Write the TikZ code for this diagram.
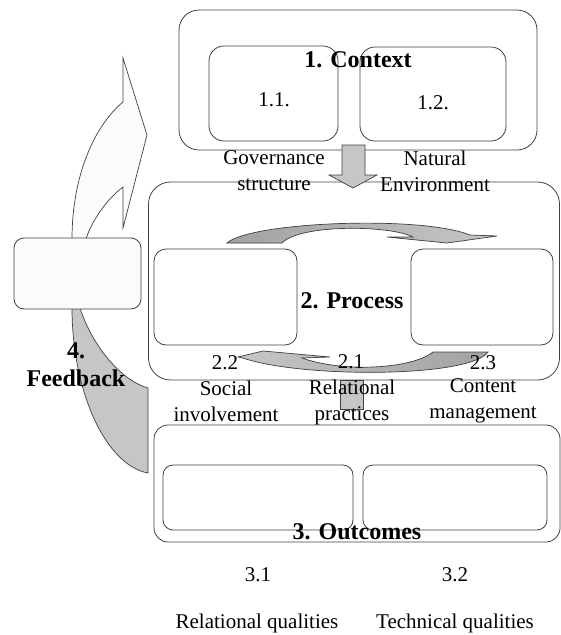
\documentclass[tikz,border=0pt]{standalone}
\usepackage{fontspec}
\setmainfont{Liberation Serif}
\usetikzlibrary{shapes, arrows.meta}
\definecolor{linegray}{HTML}{404040}
\definecolor{fillgray}{HTML}{C6C6C8}
\definecolor{darkfill}{HTML}{A2A2A4}
\definecolor{paler}{HTML}{FBFBFB}
\tikzset{
    panel/.style={rectangle, draw=linegray, line width=0.8pt, rounded corners=20pt, inner sep=0pt},
    block/.style={rectangle, draw=linegray, line width=0.8pt, rounded corners=12pt, fill=white, inner sep=0pt},
    caption/.style={align=center, inner sep=0pt, font=\fontsize{21}{26}\selectfont},
    heading/.style={align=center, inner sep=0pt, font=\bfseries\fontsize{24}{28}\selectfont},
    bigarrow/.style={draw=linegray, line width=0.7pt, fill=fillgray}
}

\begin{document}
\begin{tikzpicture}[x=1pt, y=-1pt]
            \useasboundingbox (0,0) rectangle (561,635);

            % frames
            \node[panel, minimum width=358pt, minimum height=140pt] (context) at (358,80) {};
            \node[block, minimum width=129pt, minimum height=95pt, rounded corners=15pt] (governance) at (273.5,93.5) {};
            \node[block, minimum width=146pt, minimum height=94pt, rounded corners=15pt] (environment) at (433,94) {};
            \node[panel, minimum width=411pt, minimum height=198pt, rounded corners=22pt] (process) at (354,281) {};
            \node[block, minimum width=143pt, minimum height=96pt] (social) at (225.5,297) {};
            \node[block, minimum width=142pt, minimum height=96pt] (content) at (482,297) {};
            \node[panel, minimum width=406pt, minimum height=117pt, rounded corners=14pt] (outcomes) at (357,483.5) {};
            \node[block, minimum width=190pt, minimum height=65pt, rounded corners=10pt] (relational_q) at (258,497.5) {};
            \node[block, minimum width=184pt, minimum height=65pt, rounded corners=10pt] (technical_q) at (455,497.5) {};

            % block arrows
            \draw[bigarrow] (342,145) -- (365,145) -- (365,175) -- (377,175) -- (353,188) -- (329,175) -- (342,175) -- cycle;
            \draw[bigarrow] (340,380) rectangle (363,409);
            \draw[bigarrow, fill=paler] (72,239) .. controls (72,175) and (95,125) .. (123,102) -- (123,58) -- (147,135) -- (123,228) -- (123,187) .. controls (108,198) and (92,220) .. (86,239) -- cycle;
            \draw[bigarrow] (72,308) .. controls (72,390) and (105,465) .. (148,473) -- (148,388) .. controls (120,380) and (92,345) .. (80,308) -- cycle;
            \draw[bigarrow, left color=darkfill, right color=fillgray] (227,243) .. controls (250,222) and (420,215) .. (470,235) -- (497,236) -- (447,243) -- (387,237) -- (413,237) .. controls (390,225) and (300,224) .. (282,243) -- cycle;
            \draw[bigarrow, left color=fillgray, right color=darkfill] (488,352) .. controls (470,378) and (300,378) .. (243,358) -- (238,357) -- (263,351) -- (330,357) -- (302,358) .. controls (340,372) and (410,370) .. (433,352) -- cycle;

            \node[block, fill=paler, minimum width=127pt, minimum height=71pt, rounded corners=10pt] (feedback) at (77.5,273.5) {};

            % labels
            \node[heading] (context_title) at (358,60) {1. Context};
            \node[caption] (gov_num) at (274,100) {1.1.};
            \node[caption] (env_num) at (433,103) {1.2.};
            \node[caption] (gov_text) at (274,171) {Governance\\structure};
            \node[caption] (env_text) at (435,171) {Natural\\Environment};
            \node[heading] (process_title) at (352,301) {2. Process};
            \node[caption] (social_num) at (225,363) {2.2};
            \node[caption] (practice_num) at (351,362) {2.1};
            \node[caption] (content_num) at (483,363) {2.3};
            \node[caption] (social_text) at (226,401) {Social\\involvement};
            \node[caption] (practice_text) at (352,402) {Relational\\practices};
            \node[caption] (content_text) at (483,401) {Content\\management};
            \node[heading] (feedback_title) at (76,365) {4.\\Feedback};
            \node[heading] (outcomes_title) at (357,532) {3. Outcomes};
            \node[caption] (relational_num) at (258,575) {3.1};
            \node[caption] (technical_num) at (455,575) {3.2};
            \node[caption] (relational_text) at (257,623) {Relational qualities};
            \node[caption] (technical_text) at (455,623) {Technical qualities};
        \end{tikzpicture}
\end{document}
